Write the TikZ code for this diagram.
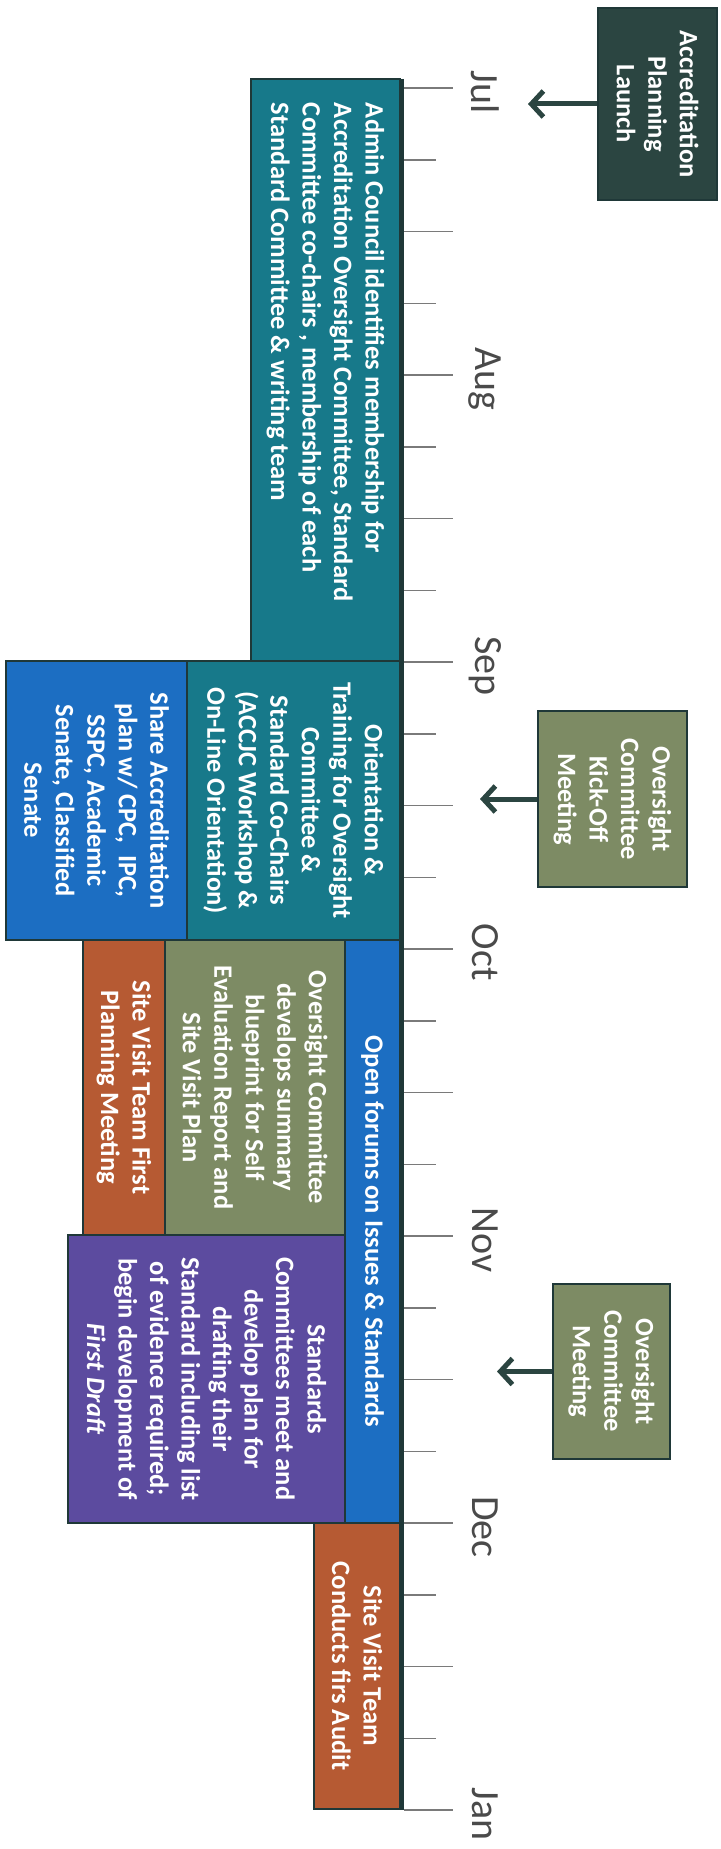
\documentclass[tikz,border=0pt]{standalone}
\usepackage{fontspec}
\setmainfont{Carlito}
\usepackage{tikz}
\usetikzlibrary{arrows.meta}

\definecolor{launchc}{HTML}{2B4541}
\definecolor{tealc}{HTML}{17798A}
\definecolor{bluec}{HTML}{1C6EC2}
\definecolor{olivec}{HTML}{7D8B64}
\definecolor{brownc}{HTML}{B65A33}
\definecolor{purplec}{HTML}{5C4B9F}
\definecolor{edgec}{HTML}{1F3838}
\definecolor{tickc}{HTML}{7A7A7A}
\definecolor{monthc}{HTML}{4A4A4A}

\begin{document}
\begin{tikzpicture}[x=1pt,y=-1pt,
	box/.style={rotate=-90,draw=edgec,line width=1.5pt,inner sep=0pt,align=center,text=white,font=\fontsize{26.5}{31.5}\selectfont\bfseries},
	month/.style={rotate=-90,text=monthc,font=\fontsize{40}{40}\selectfont},
	pointer/.style={draw=launchc,line width=5pt,-{Straight Barb[length=12pt,width=26pt]}}]

	\useasboundingbox (0,0) rectangle (720,1849);

	\node[box,fill=launchc,minimum width=192,minimum height=119] (launch) at (657.5,104) {Accreditation\\Planning\\Launch};
	\node[box,fill=tealc,minimum width=582,minimum height=149,text width=534,align=flush left] (admin) at (325.5,370) {Admin Council identifies membership for\\Accreditation Oversight Committee, Standard\\Committee co-chairs , membership of each\\Standard Committee \& writing team};
	\node[box,fill=tealc,minimum width=279,minimum height=213] (orient) at (293.5,800.5) {Orientation \&\\Training for Oversight\\Committee \&\\Standard Co-Chairs\\(ACCJC Workshop \&\\On-Line Orientation)};
	\node[box,fill=bluec,minimum width=279,minimum height=181] (share) at (96.5,800.5) {Share Accreditation\\plan w/ CPC,\ \ IPC,\\SSPC, Academic\\Senate, Classified\\Senate};
	\node[box,fill=bluec,minimum width=583,minimum height=55] (forum) at (372.5,1231.5) {Open forums on Issues \& Standards};
	\node[box,fill=olivec,minimum width=295,minimum height=180] (plan) at (255,1087.5) {Oversight Committee\\develops summary\\blueprint for Self\\Evaluation Report and\\Site Visit Plan};
	\node[box,fill=brownc,minimum width=295,minimum height=82] (site1) at (124,1087.5) {Site Visit Team First\\Planning Meeting};
	\node[box,fill=purplec,minimum width=288,minimum height=277] (stds) at (206.5,1379) {Standards\\Committees meet and\\develop plan for\\drafting their\\Standard including list\\of evidence required;\\begin development of\\\textit{First Draft}};
	\node[box,fill=brownc,minimum width=286,minimum height=86] (site2) at (357,1666) {Site Visit Team\\Conducts firs Audit};
	\node[box,fill=olivec,minimum width=176,minimum height=149] (kick) at (612.5,799) {Oversight\\Committee\\Kick-Off\\Meeting};
	\node[box,fill=olivec,minimum width=175,minimum height=117] (meet) at (611.5,1371.5) {Oversight\\Committee\\Meeting};

	% time line
	\draw[edgec,line width=4pt] (402,79) -- (402,1810);
	\foreach \i in {0,...,24} {
		\pgfmathsetmacro\len{mod(\i,2)==0 ? 49 : 32}
		\draw[tickc,line width=1.5pt] (404,88+71.75*\i) -- ++(\len,0);
	}

	\node[month] (jul) at (485,92) {Jul};
	\node[month] (aug) at (485,379) {Aug};
	\node[month] (sep) at (485,666) {Sep};
	\node[month] (oct) at (485,952) {Oct};
	\node[month] (nov) at (485,1240) {Nov};
	\node[month] (dec) at (485,1527) {Dec};
	\node[month] (jan) at (485,1814) {Jan};

	\coordinate (lt) at (528,104);
	\coordinate (kt) at (480,799);
	\coordinate (mt) at (497,1371.5);

	\path (launch.south) edge[pointer] (lt);
	\path (kick.south) edge[pointer] (kt);
	\path (meet.south) edge[pointer] (mt);
\end{tikzpicture}
\end{document}
